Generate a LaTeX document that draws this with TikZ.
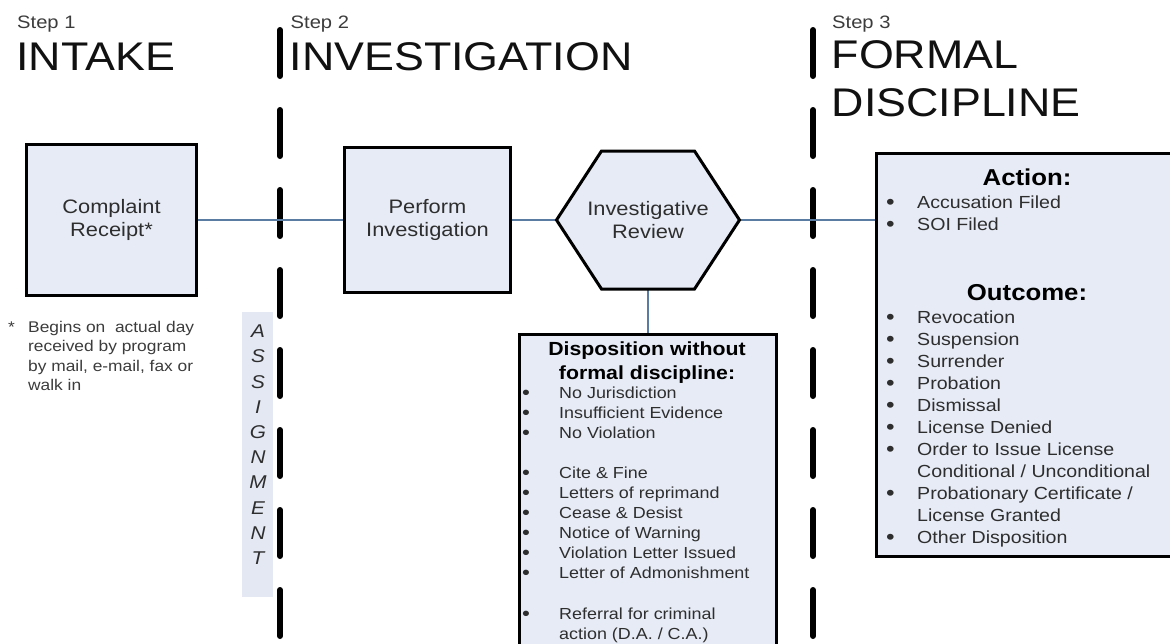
\documentclass[tikz,border=0pt]{standalone}
\usepackage{fontspec}
\setmainfont{Liberation Sans}[FakeStretch=1.12]
\usetikzlibrary{calc,backgrounds}
\definecolor{boxfill}{HTML}{E6EBF5}
\definecolor{stripfill}{HTML}{E3E8F3}
\definecolor{conn}{HTML}{5A7CA2}
\definecolor{txt}{HTML}{2E2E2E}
\definecolor{steptxt}{HTML}{3C3C3C}
\definecolor{head}{HTML}{111111}
\newcommand{\fs}[2]{\fontsize{#1}{#2}\selectfont}
\newcommand{\bul}[1]{\makebox[#1][l]{\raisebox{-0.07em}{\scalebox{1.25}{\textbullet}}}}
\newcommand{\nobul}[1]{\hspace*{#1}}
\begin{document}
\begin{tikzpicture}[x=1pt,y=-1pt,
  box/.style={draw=black, line width=3pt, fill=boxfill, inner sep=0pt, outer sep=0pt},
  conline/.style={draw=conn, line width=2.2pt},
  divider/.style={draw=black, line width=6pt, line cap=round, dash pattern=on 46pt off 34pt},
  steplbl/.style={anchor=base west, inner sep=0pt, text=steptxt, font=\fs{18}{20}},
  phase/.style={inner sep=0pt, text=head, font=\fs{40}{48}, align=left},
  boxtxt/.style={text=txt, font=\fs{19.5}{23.5}, align=center},
  listtxt/.style={anchor=north west, inner sep=0pt, text=txt, align=left},
  titletxt/.style={inner sep=0pt, text=black, align=center}
]
\useasboundingbox (0,0) rectangle (1170,643);

% phase headers
\node[steplbl] (step1) at (17,28) {Step 1};
\node[phase, anchor=base west] (intake) at (16.3,70) {INTAKE};
\node[steplbl] (step2) at (290.5,28) {Step 2};
\node[phase, anchor=base west] (invest) at (289.5,70) {INVESTIGATION};
\node[steplbl] (step3) at (832,28) {Step 3};
\node[phase, anchor=north west] (formalhead) at (831.5,40.4) {FORMAL\\DISCIPLINE};

% assignment strip
\node[fill=stripfill, inner sep=0pt, minimum width=31pt, minimum height=285pt] (strip) at (257.5,454.5) {};
\node[inner sep=0pt, text=txt, align=center, font=\fs{18.5}{25.2}\itshape] (assign) at (258,444.8)
  {A\\S\\S\\I\\G\\N\\M\\E\\N\\T};

% boxes
\node[box, minimum width=170pt, minimum height=151pt, boxtxt] (complaint) at (111.5,220) {Complaint\\Receipt*};
\node[box, minimum width=166pt, minimum height=145pt, boxtxt] (perform) at (427.5,220) {Perform\\Investigation};

\draw[line width=3pt, fill=boxfill, line join=miter]
  (556.5,220) -- (601.5,151) -- (694.5,151) -- (739.5,220) -- (694.5,289) -- (601.5,289) -- cycle;
\node[boxtxt, minimum width=183pt, minimum height=138pt, inner sep=0pt, outer sep=0pt] (hex) at (648,220) {Investigative\\Review};

\node[box, line width=2.5pt, anchor=north, minimum width=257pt, minimum height=330pt] (disp) at (648,334.5) {};
\node[titletxt, anchor=north, font=\fs{19}{23.5}\bfseries] (disptitle) at (647,342) {Disposition without\\formal discipline:};
\node[listtxt, font=\fs{16}{20}] (displist) at (522,386.4) {%
\bul{37pt}No Jurisdiction\\
\bul{37pt}Insufficient Evidence\\
\bul{37pt}No Violation\\[20pt]
\bul{37pt}Cite \& Fine\\
\bul{37pt}Letters of reprimand\\
\bul{37pt}Cease \& Desist\\
\bul{37pt}Notice of Warning\\
\bul{37pt}Violation Letter Issued\\
\bul{37pt}Letter of Admonishment\\[21pt]
\bul{37pt}Referral for criminal\\
\nobul{37pt}action (D.A. / C.A.)};

\node[box, anchor=north west, minimum width=310pt, minimum height=403pt] (formal) at (876.5,153.5) {};
\node[titletxt, anchor=base, font=\fs{23}{26}\bfseries] (actiontitle) at (1027,185) {Action:};
\node[listtxt, font=\fs{17.5}{22}] (actionlist) at (886,195.2) {%
\bul{31pt}Accusation Filed\\
\bul{31pt}SOI Filed};
\node[titletxt, anchor=base, font=\fs{23}{26}\bfseries] (outcometitle) at (1027,300) {Outcome:};
\node[listtxt, font=\fs{17.5}{22}] (outcomelist) at (886,310.5) {%
\bul{31pt}Revocation\\
\bul{31pt}Suspension\\
\bul{31pt}Surrender\\
\bul{31pt}Probation\\
\bul{31pt}Dismissal\\
\bul{31pt}License Denied\\
\bul{31pt}Order to Issue License\\
\nobul{31pt}Conditional / Unconditional\\
\bul{31pt}Probationary Certificate /\\
\nobul{31pt}License Granted\\
\bul{31pt}Other Disposition};

% footnote
\node[listtxt, text=steptxt, font=\fs{15.5}{19.5}] (footnote) at (8,320.7) {%
\makebox[20pt][l]{*}Begins on\ \ actual day\\
\nobul{20pt}received by program\\
\nobul{20pt}by mail, e-mail, fax or\\
\nobul{20pt}walk in};

% background: page, dividers, connectors
\begin{scope}[on background layer]
  \fill[white] (0,0) rectangle (1170,643);
  \draw[divider] (280,30) -- (280,680);
  \draw[divider] (813,30) -- (813,680);
  \draw[conline] (complaint.east) -- (perform.west);
  \draw[conline] (perform.east) -- (hex.west);
  \draw[conline] (hex.east) -- (hex.east -| formal.west);
  \draw[conline] (hex.south) -- (disp.north);
\end{scope}
\end{tikzpicture}
\end{document}
